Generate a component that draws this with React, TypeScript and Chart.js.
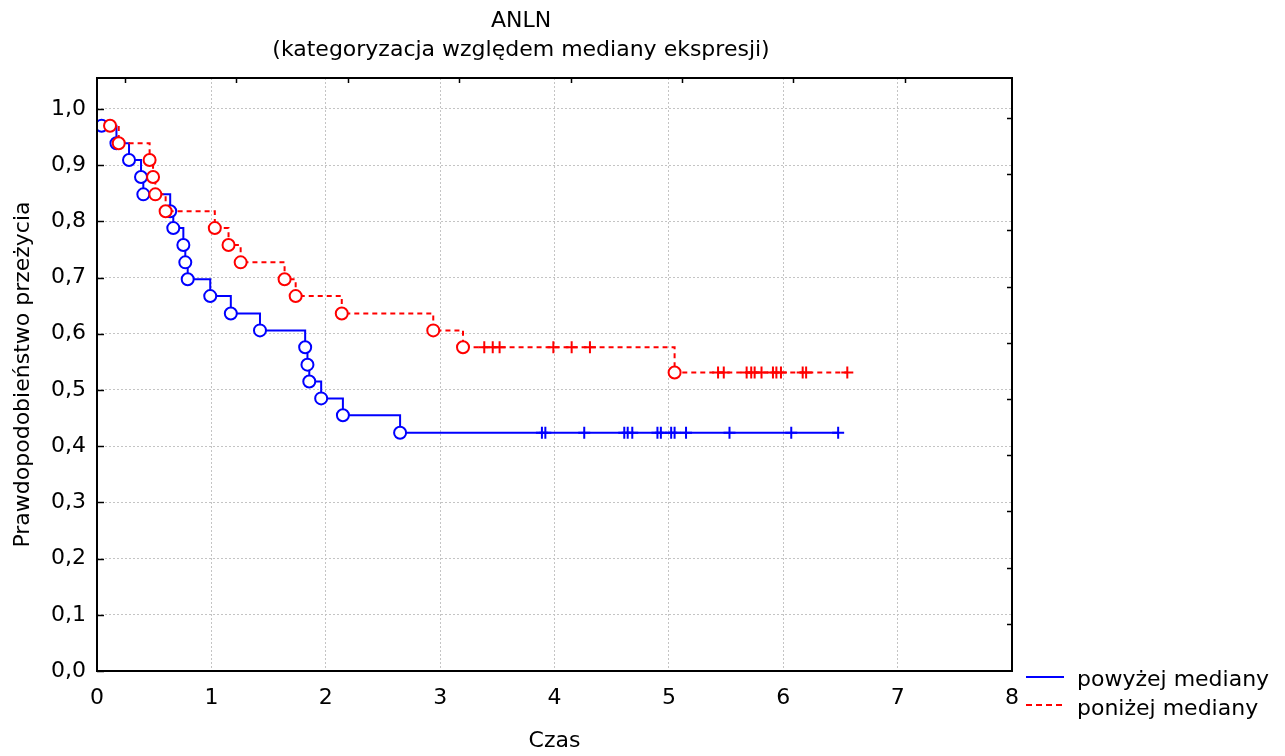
import React, { useEffect, useRef } from 'react';
import { Chart, registerables } from 'chart.js';

Chart.register(...registerables);

const chartTitle = 'ANLN';
const chartSubtitle = '(kategoryzacja względem mediany ekspresji)';
const xAxisTitle = 'Czas';
const yAxisTitle = 'Prawdopodobieństwo przeżycia';
const seriesNames = ['powyżej mediany', 'poniżej mediany'];
const seriesColors = ['#0000ff', '#ff0000'];

// Group 1: powyżej mediany (events = circles, censored = crosses)
const aboveEventTimes = [0.04, 0.17, 0.28, 0.385, 0.405, 0.64, 0.667, 0.755, 0.772, 0.793, 0.99, 1.17, 1.425, 1.82, 1.84, 1.856, 1.96, 2.15, 2.65];
const aboveEventSurv = [0.970, 0.939, 0.909, 0.879, 0.848, 0.818, 0.788, 0.758, 0.727, 0.697, 0.667, 0.636, 0.606, 0.576, 0.545, 0.515, 0.485, 0.455, 0.424];
const aboveCensorTimes = [3.89, 3.92, 4.26, 4.61, 4.64, 4.68, 4.90, 4.93, 5.02, 5.05, 5.15, 5.53, 6.07, 6.48];
const aboveCensorSurv = [0.424, 0.424, 0.424, 0.424, 0.424, 0.424, 0.424, 0.424, 0.424, 0.424, 0.424, 0.424, 0.424, 0.424];

// Group 2: poniżej mediany
const belowEventTimes = [0.114, 0.19, 0.46, 0.49, 0.51, 0.60, 1.03, 1.15, 1.256, 1.64, 1.737, 2.14, 2.94, 3.20, 5.05];
const belowEventSurv = [0.970, 0.939, 0.909, 0.879, 0.848, 0.818, 0.788, 0.758, 0.727, 0.697, 0.667, 0.636, 0.606, 0.576, 0.531];
const belowCensorTimes = [3.386, 3.46, 3.52, 3.99, 4.15, 4.31, 5.43, 5.48, 5.68, 5.72, 5.75, 5.81, 5.91, 5.94, 5.98, 6.17, 6.20, 6.56];
const belowCensorSurv = [0.576, 0.576, 0.576, 0.576, 0.576, 0.576, 0.531, 0.531, 0.531, 0.531, 0.531, 0.531, 0.531, 0.531, 0.531, 0.531, 0.531, 0.531];

const xMin = 0;
const xMax = 8;
const xStep = 1;
const yMin = 0;
const yMax = 1.055;
const yStep = 0.1;

// secondary (top / right) frame tick positions, in axis units
const topFrameTicks = [0.245, 1.219, 2.193, 3.167, 4.141, 5.115, 6.089, 7.063];
const rightFrameTicks = [0.984, 0.884, 0.784, 0.684, 0.584, 0.484, 0.384, 0.284, 0.184, 0.084];

const FONT = '"DejaVu Sans", "Liberation Sans", Arial, sans-serif';
const FONT_SIZE = 22;

type Pt = { x: number; y: number };

function toPoints(times: number[], surv: number[]): Pt[] {
  return times.map((t, i) => ({ x: t, y: surv[i] }));
}

function stepPoints(evT: number[], evS: number[], cT: number[], cS: number[]): Pt[] {
  return [...toPoints(evT, evS), ...toPoints(cT, cS)].sort((a, b) => a.x - b.x);
}

const decorPlugin = {
  id: 'decor',
  afterDraw(chart: any) {
    const { ctx, chartArea: a, scales } = chart;
    ctx.save();
    ctx.setLineDash([]);
    // frame
    ctx.strokeStyle = '#000';
    ctx.lineWidth = 2;
    ctx.strokeRect(a.left, a.top, a.right - a.left, a.bottom - a.top);
    // inward ticks on the left axis
    ctx.lineWidth = 1.5;
    scales.y.ticks.forEach((_t: any, i: number) => {
      const y = Math.round(scales.y.getPixelForTick(i)) + 0.5;
      ctx.beginPath();
      ctx.moveTo(a.left, y);
      ctx.lineTo(a.left + 7, y);
      ctx.stroke();
    });
    // inward ticks on top and right frame
    topFrameTicks.forEach((v) => {
      const x = Math.round(scales.x.getPixelForValue(v)) + 0.5;
      ctx.beginPath();
      ctx.moveTo(x, a.top);
      ctx.lineTo(x, a.top + 5);
      ctx.stroke();
    });
    rightFrameTicks.forEach((v) => {
      const y = Math.round(scales.y.getPixelForValue(v)) + 0.5;
      ctx.beginPath();
      ctx.moveTo(a.right, y);
      ctx.lineTo(a.right - 5, y);
      ctx.stroke();
    });
    // titles
    ctx.fillStyle = '#000';
    ctx.font = `${FONT_SIZE}px ${FONT}`;
    ctx.textAlign = 'center';
    ctx.textBaseline = 'alphabetic';
    ctx.fillText(chartTitle, 521, 27);
    ctx.fillText(chartSubtitle, 521, 56);
    ctx.textBaseline = 'middle';
    ctx.fillText(xAxisTitle, (a.left + a.right) / 2, 741);
    ctx.save();
    ctx.translate(23, (a.top + a.bottom) / 2);
    ctx.rotate(-Math.PI / 2);
    ctx.fillText(yAxisTitle, 0, 0);
    ctx.restore();
    // legend
    const legendY = [677, 705];
    const textBase = [686, 715];
    seriesNames.forEach((name, i) => {
      ctx.strokeStyle = seriesColors[i];
      ctx.lineWidth = 2;
      ctx.setLineDash(i === 0 ? [] : [6, 4]);
      ctx.beginPath();
      ctx.moveTo(1026, legendY[i]);
      ctx.lineTo(1064, legendY[i]);
      ctx.stroke();
      ctx.setLineDash([]);
      ctx.fillStyle = '#000';
      ctx.textAlign = 'left';
      ctx.textBaseline = 'alphabetic';
      ctx.fillText(name, 1077, textBase[i]);
    });
    ctx.restore();
  },
};

export default function App() {
  const ref = useRef<HTMLCanvasElement>(null);

  useEffect(() => {
    if (!ref.current) return;
    const aboveLine = stepPoints(aboveEventTimes, aboveEventSurv, aboveCensorTimes, aboveCensorSurv);
    const belowLine = stepPoints(belowEventTimes, belowEventSurv, belowCensorTimes, belowCensorSurv);

    const chart = new Chart(ref.current, {
      type: 'scatter',
      data: {
        datasets: [
          {
            label: seriesNames[1] + ' cenz.',
            data: toPoints(belowCensorTimes, belowCensorSurv),
            pointStyle: 'cross',
            pointRadius: 6,
            borderColor: seriesColors[1],
            borderWidth: 2,
            showLine: false,
          },
          {
            label: seriesNames[1] + ' zdarz.',
            data: toPoints(belowEventTimes, belowEventSurv),
            pointStyle: 'circle',
            pointRadius: 6,
            borderColor: seriesColors[1],
            backgroundColor: '#ffffff',
            borderWidth: 2,
            showLine: false,
          },
          {
            label: seriesNames[1],
            data: belowLine,
            showLine: true,
            stepped: 'before',
            borderColor: seriesColors[1],
            borderWidth: 2,
            borderDash: [5, 4],
            pointRadius: 0,
            fill: false,
          },
          {
            label: seriesNames[0] + ' cenz.',
            data: toPoints(aboveCensorTimes, aboveCensorSurv),
            pointStyle: 'cross',
            pointRadius: 6,
            borderColor: seriesColors[0],
            borderWidth: 2,
            showLine: false,
          },
          {
            label: seriesNames[0] + ' zdarz.',
            data: toPoints(aboveEventTimes, aboveEventSurv),
            pointStyle: 'circle',
            pointRadius: 6,
            borderColor: seriesColors[0],
            backgroundColor: '#ffffff',
            borderWidth: 2,
            showLine: false,
          },
          {
            label: seriesNames[0],
            data: aboveLine,
            showLine: true,
            stepped: 'before',
            borderColor: seriesColors[0],
            borderWidth: 2,
            pointRadius: 0,
            fill: false,
          },
        ],
      },
      options: {
        animation: false,
        responsive: false,
        devicePixelRatio: 1,
        layout: { padding: { top: 78, right: 273, left: 0, bottom: 0 } },
        plugins: {
          legend: { display: false },
          title: { display: false },
          tooltip: { enabled: false },
        },
        scales: {
          x: {
            type: 'linear',
            min: xMin,
            max: xMax,
            afterFit: (s: any) => { s.height = 85; },
            grid: { color: '#c4c4c4', lineWidth: 1, drawTicks: false },
            border: { display: false, dash: [2, 2] },
            ticks: {
              stepSize: xStep,
              includeBounds: false,
              padding: 14,
              maxRotation: 0,
              color: '#000',
              font: { family: FONT, size: FONT_SIZE },
              callback: (v: any) => String(Math.round(Number(v))),
            },
          },
          y: {
            type: 'linear',
            min: yMin,
            max: yMax,
            afterFit: (s: any) => { s.width = 97; },
            grid: { color: '#c4c4c4', lineWidth: 1, drawTicks: false },
            border: { display: false, dash: [2, 2] },
            ticks: {
              stepSize: yStep,
              includeBounds: false,
              padding: 11,
              color: '#000',
              font: { family: FONT, size: FONT_SIZE },
              callback: (v: any) => Number(v).toFixed(1).replace('.', ','),
            },
          },
        },
      },
      plugins: [decorPlugin],
    });
    return () => chart.destroy();
  }, []);

  return (
    <div style={{ position: 'absolute', left: 0, top: 0, width: 1285, height: 756, background: '#fff' }}>
      <canvas ref={ref} width={1285} height={756} style={{ width: 1285, height: 756, display: 'block' }} />
    </div>
  );
}
